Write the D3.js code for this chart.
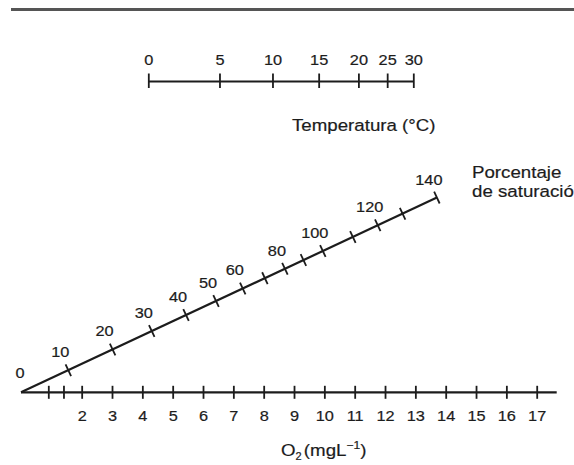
<!DOCTYPE html>
<html><head><meta charset="utf-8">
<script src="https://cdn.jsdelivr.net/npm/d3@7"></script>
<style>html,body{margin:0;padding:0;background:#fff;} svg{display:block}
text{stroke:#1c1c1c;stroke-width:0.2px;}</style>
</head><body>
<script>
// ---- Data ----
// Temperature scale (°C); each tick is placed at the O2 saturation concentration (mg/L) it represents
const tempTicks = [0, 5, 10, 15, 20, 25, 30];
const tempSatConc = [14.6, 12.72, 11.32, 10.1, 9.05, 8.29, 7.6];
// O2 scale (mg/L)
const o2Labelled = [2, 3, 4, 5, 6, 7, 8, 9, 10, 11, 12, 13, 14, 15, 16, 17];
const o2Minor = [0.9, 1.4];
// Saturation (%) ticks on the oblique scale and the O2 reading directly beneath each tick
const satTicks = [0, 10, 20, 30, 40, 50, 60, 70, 80, 90, 100, 110, 120, 130, 140];
const satLabelled = [0, 10, 20, 30, 40, 50, 60, 80, 100, 120, 140];
const satAtO2 = [0, 1.56, 3.02, 4.31, 5.44, 6.43, 7.31, 8.04, 8.70, 9.31, 9.95, 10.94, 11.76, 12.58, 13.71];

// ---- Layout ----
const W = 574, H = 465;
const FONT = "'Liberation Sans', Arial, Helvetica, sans-serif";
const INK = "#1c1c1c";
const SX = 1.09;         // horizontal stretch of the numerals
const SXT = 1.1;         // horizontal stretch of the titles
const NUM = 15, TIT = 17;
const yO2 = 392.3, yTemp = 81.5;
const slope = 0.4681;    // rise of the oblique saturation scale per px

const svg = d3.select("body").append("svg").attr("width", W).attr("height", H)
  .style("font-family", FONT);

// top rule
svg.append("line").attr("x1", 11).attr("x2", W).attr("y1", 9.5).attr("y2", 9.5)
  .attr("stroke", "#555").attr("stroke-width", 3);

// scales
const x = d3.scaleLinear().domain([0, 17]).range([21, 536.7]);
const xT = d3.scaleLinear().domain([14.6, 7.6]).range([148.3, 413.3]);
const yDiag = v => yO2 - slope * (x(v) - x(0));

// ---- O2 axis ----
const gO2 = svg.append("g").attr("transform", `translate(0,${yO2})`)
  .call(d3.axisBottom(x).tickValues(o2Minor.concat(o2Labelled))
    .tickFormat(d => o2Labelled.includes(d) ? d : "").tickSizeOuter(0));
gO2.select(".domain").remove();
gO2.selectAll(".tick line").attr("y1", -6.5).attr("y2", 6.5).attr("stroke", INK).attr("stroke-width", 1.8);
gO2.selectAll(".tick text").attr("y", 29).attr("dy", null).attr("fill", INK)
  .attr("font-size", NUM).attr("font-family", FONT).attr("transform", `scale(${SX},1)`);
gO2.append("line").attr("x1", x(0)).attr("x2", x(17) + 20).attr("y1", 0).attr("y2", 0)
  .attr("stroke", INK).attr("stroke-width", 2.2);

// ---- Temperature axis ----
const gT = svg.append("g").attr("transform", `translate(0,${yTemp})`)
  .call(d3.axisTop(xT).tickValues(tempSatConc)
    .tickFormat((d, i) => tempTicks[i]).tickSizeOuter(0));
gT.select(".domain").remove();
gT.append("line").attr("x1", xT(tempSatConc[0])).attr("x2", xT(tempSatConc[tempSatConc.length - 1]))
  .attr("y1", 0).attr("y2", 0).attr("stroke", INK).attr("stroke-width", 2.2);
gT.selectAll(".tick line").attr("y1", -8).attr("y2", 6.5).attr("stroke", INK).attr("stroke-width", 1.8);
gT.selectAll(".tick text").attr("y", -16.5).attr("dy", null).attr("fill", INK)
  .attr("font-size", NUM).attr("font-family", FONT).attr("transform", `scale(${SX},1)`);

svg.append("text").attr("transform", `translate(292,131) scale(${SXT},1)`)
  .attr("font-size", TIT).attr("fill", INK).text("Temperatura (°C)");

// ---- Oblique saturation scale ----
const gS = svg.append("g");
const last = satAtO2[satAtO2.length - 1];
gS.append("line").attr("x1", x(0)).attr("y1", yDiag(0)).attr("x2", x(last)).attr("y2", yDiag(last))
  .attr("stroke", INK).attr("stroke-width", 2.2);
const ang = Math.atan(slope);
const px = Math.sin(ang), py = Math.cos(ang);
satTicks.forEach((s, i) => {
  if (s === 0) return;
  const v = satAtO2[i], cx = x(v), cy = yDiag(v);
  gS.append("line").attr("x1", cx - px * 6.5).attr("y1", cy - py * 6.5)
    .attr("x2", cx + px * 6.5).attr("y2", cy + py * 6.5)
    .attr("stroke", INK).attr("stroke-width", 1.8);
  if (satLabelled.includes(s)) {
    gS.append("text").attr("transform", `translate(${cx - 8},${cy - 13}) scale(${SX},1)`)
      .attr("text-anchor", "middle").attr("font-size", NUM).attr("fill", INK).text(s);
  }
});
gS.append("text").attr("transform", `translate(${x(0) - 1},${yDiag(0) - 14}) scale(${SX},1)`)
  .attr("text-anchor", "middle").attr("font-size", NUM).attr("fill", INK).text(satTicks[0]);

svg.append("text").attr("transform", `translate(472,178) scale(${SXT},1)`)
  .attr("font-size", TIT).attr("fill", INK).text("Porcentaje");
svg.append("text").attr("transform", `translate(472,197) scale(${SXT},1)`)
  .attr("font-size", TIT).attr("fill", INK).text("de saturació");

// ---- O2 title ----
const t = svg.append("text").attr("transform", `translate(281,456) scale(${SXT},1)`)
  .attr("font-size", TIT).attr("fill", INK);
t.append("tspan").text("O");
t.append("tspan").attr("dy", 4).attr("font-size", 10).text("2");
t.append("tspan").attr("dy", -4).attr("dx", 2).text("(mgL");
t.append("tspan").attr("dy", -7).attr("font-size", 11).text("−1");
t.append("tspan").attr("dy", 7).text(")");
</script>
</body></html>
